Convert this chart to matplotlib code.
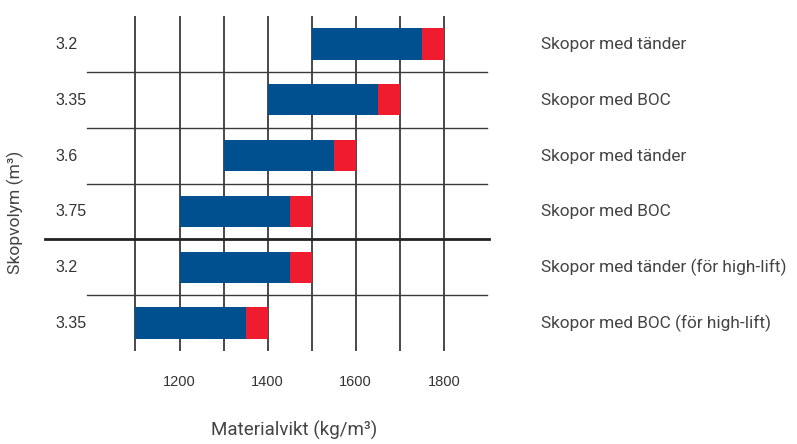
import matplotlib
matplotlib.use("Agg")
import matplotlib.pyplot as plt
from matplotlib import transforms

volumes = ["3.2", "3.35", "3.6", "3.75", "3.2", "3.35"]
categories = ["Skopor med tänder", "Skopor med BOC", "Skopor med tänder",
              "Skopor med BOC", "Skopor med tänder (för high-lift)",
              "Skopor med BOC (för high-lift)"]
start = [1500, 1400, 1300, 1200, 1200, 1100]
mid = [1750, 1650, 1550, 1450, 1450, 1350]
end = [1800, 1700, 1600, 1500, 1500, 1400]
xticks = [1200, 1400, 1600, 1800]
gridx = [1100, 1200, 1300, 1400, 1500, 1600, 1700, 1800]

narrow = "Roboto"
plain = "Liberation Sans"

W, H = 797, 444
fig = plt.figure(figsize=(W / 100, H / 100), dpi=100)
ax = fig.add_axes([87 / W, (H - 351) / H, 400 / W, 335 / H])
ax.set_xlim(990, 1898)
ax.set_ylim(5.5, -0.5)
for s in ax.spines.values():
    s.set_visible(False)
ax.set_xticks([])
ax.set_yticks([])

for g in gridx:
    ax.axvline(g, color="#3a3a3a", lw=1.3, zorder=1)
for yb in [0.5, 1.5, 2.5, 4.5]:
    ax.plot([990, 1898], [yb, yb], color="#3a3a3a", lw=1.0, zorder=1, clip_on=False)
ax.plot([894, 1903], [3.5, 3.5], color="#222222", lw=2.0, zorder=1, clip_on=False)

blue = "#004f8f"
red = "#ee1c2e"
for i in range(len(volumes)):
    ax.barh(i, mid[i] - start[i], left=start[i], height=0.56, color=blue, zorder=2)
    ax.barh(i, end[i] - mid[i], left=mid[i], height=0.56, color=red, zorder=2)
    ax.text(55 / W, 1 - ((44.5 + 55.8 * i) / H), volumes[i], transform=fig.transFigure,
            ha="left", va="center", fontsize=11.5, color="#333333", family=plain)
    ax.text(541 / W, 1 - ((44.5 + 55.8 * i) / H), categories[i], transform=fig.transFigure,
            ha="left", va="center", fontsize=12.4, color="#444444", family=narrow)

blend = transforms.blended_transform_factory(ax.transData, fig.transFigure)
for t in xticks:
    ax.text(t, 1 - 382 / H, str(t), transform=blend, ha="center", va="center",
            fontsize=10.5, color="#333333", family=plain)

fig.text(294 / W, 1 - 430 / H, "Materialvikt (kg/m³)", ha="center", va="center",
         fontsize=13.5, color="#444444", family=narrow)
fig.text(15 / W, 1 - 212 / H, "Skopvolym (m³)", ha="center", va="center", rotation=90,
         fontsize=12.6, color="#444444", family=narrow)

fig.savefig("out.png", dpi=100)
